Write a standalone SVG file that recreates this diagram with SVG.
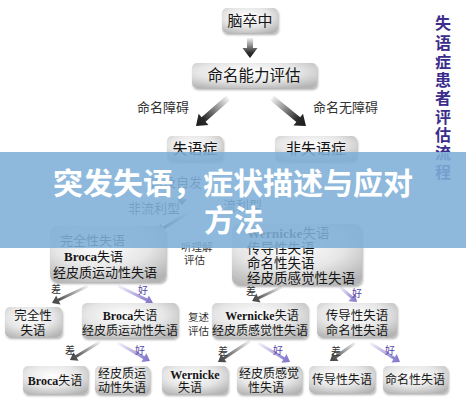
<svg xmlns="http://www.w3.org/2000/svg" width="466" height="400" viewBox="0 0 466 400">
<defs>
<radialGradient id="bx" cx="0.45" cy="0.35" r="0.75">
<stop offset="0" stop-color="#ffffff"/>
<stop offset="0.55" stop-color="#e6e6e6"/>
<stop offset="1" stop-color="#b4b4b4"/>
</radialGradient>
<linearGradient id="gm" x1="0" y1="0" x2="1" y2="0">
<stop offset="0" stop-color="#f2f2f2"/>
<stop offset="0.75" stop-color="#2a2a2a"/>
<stop offset="1" stop-color="#1a1a1a"/>
</linearGradient>
<linearGradient id="gb" x1="0" y1="0" x2="1" y2="0">
<stop offset="0" stop-color="#f4f4f4"/>
<stop offset="0.8" stop-color="#555"/>
<stop offset="1" stop-color="#444"/>
</linearGradient>
<linearGradient id="gg" x1="0" y1="0" x2="1" y2="0">
<stop offset="0" stop-color="#f6f5fb"/>
<stop offset="0.8" stop-color="#9085d2"/>
<stop offset="1" stop-color="#8074c8"/>
</linearGradient>
<filter id="sh" x="-10%" y="-10%" width="125%" height="135%">
<feGaussianBlur in="SourceAlpha" stdDeviation="1.2"/>
<feOffset dx="1" dy="1.5"/>
<feComponentTransfer><feFuncA type="linear" slope="0.3"/></feComponentTransfer>
<feMerge><feMergeNode/><feMergeNode in="SourceGraphic"/></feMerge>
</filter>
</defs>
<style>
.box{fill:url(#bx);filter:url(#sh)}
.t{font-family:"Noto Sans CJK SC",sans-serif;fill:#151515}
.c{text-anchor:middle}
.lat{font-family:"Liberation Serif",serif;font-weight:bold}
.lb{font-family:"Noto Sans CJK SC",sans-serif;fill:#333;font-size:13px}
.sm{font-family:"Noto Sans CJK SC",sans-serif;fill:#333;font-size:10.5px}
.bad{font-family:"Noto Sans CJK SC",sans-serif;fill:#333;font-size:10px;text-anchor:middle}
.good{font-family:"Noto Sans CJK SC",sans-serif;fill:#5546a8;font-size:10px;text-anchor:middle}
.am{fill:url(#gm)}
.ab{fill:url(#gb)}
.ag{fill:url(#gg)}
.vt{font-family:"Noto Sans CJK SC",sans-serif;font-weight:bold;fill:#3a2d8c;font-size:16px;text-anchor:middle}
.title{font-family:"Noto Sans CJK SC",sans-serif;font-weight:bold;fill:#ffffff;font-size:30px;text-anchor:middle}
</style>
<rect width="466" height="400" fill="#ffffff"/>

<g id="connectors">
<polygon class="am" transform="translate(250,38) rotate(90)" points="0,-3 10,-3 10,-7.5 20,0 10,7.5 10,3 0,3"/>
<polygon class="am" transform="translate(228,98) rotate(138.8)" points="0,-3 32.5,-3 32.5,-7.5 42.5,0 32.5,7.5 32.5,3 0,3"/>
<polygon class="am" transform="translate(272,98) rotate(39.5)" points="0,-3 34,-3 34,-7.5 44,0 34,7.5 34,3 0,3"/>
<polygon class="ab" transform="translate(182,192) rotate(90)" points="0,-1.5 7,-1.5 7,-5 13,0 7,5 7,1.5 0,1.5"/>
<polygon class="ab" transform="translate(190,212) rotate(148.8)" points="0,-1.5 31.6,-1.5 31.6,-5 38.6,0 31.6,5 31.6,1.5 0,1.5"/>
<polygon class="ab" transform="translate(88,286) rotate(154.7)" points="0,-1.5 32.8,-1.5 32.8,-5 39.8,0 32.8,5 32.8,1.5 0,1.5"/>
<polygon class="ag" transform="translate(118,286) rotate(25.9)" points="0,-1.5 31.9,-1.5 31.9,-5 38.9,0 31.9,5 31.9,1.5 0,1.5"/>
<polygon class="ab" transform="translate(282,287) rotate(155)" points="0,-1.5 26,-1.5 26,-5 33,0 26,5 26,1.5 0,1.5"/>
<polygon class="ag" transform="translate(340,287) rotate(41.4)" points="0,-1.5 15.7,-1.5 15.7,-5 22.7,0 15.7,5 15.7,1.5 0,1.5"/>
<polygon class="ab" transform="translate(100,342) rotate(149)" points="0,-1.5 28,-1.5 28,-5 35,0 28,5 28,1.5 0,1.5"/>
<polygon class="ag" transform="translate(118,343) rotate(29.4)" points="0,-1.5 29.7,-1.5 29.7,-5 36.7,0 29.7,5 29.7,1.5 0,1.5"/>
<polygon class="ab" transform="translate(250,341) rotate(146.7)" points="0,-1.5 31.3,-1.5 31.3,-5 38.3,0 31.3,5 31.3,1.5 0,1.5"/>
<polygon class="ag" transform="translate(258,343) rotate(30.7)" points="0,-1.5 30.2,-1.5 30.2,-5 37.2,0 30.2,5 30.2,1.5 0,1.5"/>
<polygon class="ab" transform="translate(355,343) rotate(144.2)" points="0,-1.5 23.8,-1.5 23.8,-5 30.8,0 23.8,5 23.8,1.5 0,1.5"/>
<polygon class="ag" transform="translate(370,343) rotate(32.3)" points="0,-1.5 28.5,-1.5 28.5,-5 35.5,0 28.5,5 28.5,1.5 0,1.5"/>
</g>

<g id="labels">
<text class="lb" x="137" y="112">命名障碍</text>
<text class="lb" x="313" y="112">命名无障碍</text>
<text class="lb" x="150" y="187">语及自发</text>
<text class="lb" x="128" y="213">非流利型</text>
<text class="lb" x="223" y="210">流利型</text>
<text class="sm" x="181" y="251">听理解</text>
<text class="sm" x="184" y="264">评估</text>
<text class="sm" x="188" y="321">复述</text>
<text class="sm" x="188" y="335">评估</text>
<text class="bad" x="56" y="293">差</text>
<text class="good" x="143" y="294">好</text>
<text class="bad" x="251" y="295">差</text>
<text class="good" x="357" y="297">好</text>
<text class="bad" x="70" y="354">差</text>
<text class="good" x="140" y="354">好</text>
<text class="bad" x="223" y="355">差</text>
<text class="good" x="278" y="354">好</text>
<text class="bad" x="336" y="355">差</text>
<text class="good" x="390" y="354">好</text>
</g>

<g id="n-stroke"><rect class="box" x="222" y="8" width="56" height="25" rx="5"/><text class="t c" x="250" y="26" font-size="15">脑卒中</text></g>
<g id="n-naming"><rect class="box" x="192" y="63" width="125" height="25" rx="5"/><text class="t c" x="254" y="81" font-size="15.5">命名能力评估</text></g>
<g id="n-aphasia"><rect class="box" x="167" y="136" width="56" height="25" rx="5"/><text class="t c" x="195" y="154" font-size="15">失语症</text></g>
<g id="n-nonaphasia"><rect class="box" x="275" y="136" width="82" height="25" rx="5"/><text class="t c" x="316" y="154" font-size="15">非失语症</text></g>

<g id="n-nonfluent"><rect class="box" x="50" y="226" width="116" height="56" rx="7"/>
<text class="t" x="60" y="245" font-size="13">完全性失语</text>
<text class="t" x="64" y="261" font-size="13"><tspan class="lat">Broca</tspan>失语</text>
<text class="t" x="53" y="277" font-size="13">经皮质运动性失语</text></g>
<g id="n-fluent"><rect class="box" x="232" y="224" width="130" height="61" rx="7"/>
<text class="t" x="247" y="238" font-size="13.5"><tspan class="lat">Wernicke</tspan>失语</text>
<text class="t" x="247" y="253" font-size="13.5">传导性失语</text>
<text class="t" x="247" y="268" font-size="13.5">命名性失语</text>
<text class="t" x="247" y="283" font-size="13.5">经皮质感觉性失语</text></g>

<g id="n-global"><rect class="box" x="5" y="307" width="57" height="30" rx="5"/>
<text class="t c" x="33" y="320" font-size="12.5">完全性</text>
<text class="t c" x="33" y="335" font-size="12.5">失语</text></g>
<g id="n-broca-tcm"><rect class="box" x="82" y="303" width="96" height="35" rx="5"/>
<text class="t c" x="130" y="320" font-size="12"><tspan class="lat">Broca</tspan>失语</text>
<text class="t c" x="130" y="335" font-size="12">经皮质运动性失语</text></g>
<g id="n-wern-tcs"><rect class="box" x="212" y="303" width="96" height="35" rx="5"/>
<text class="t c" x="262" y="320" font-size="12"><tspan class="lat">Wernicke</tspan>失语</text>
<text class="t c" x="260" y="335" font-size="12">经皮质感觉性失语</text></g>
<g id="n-cond-anom"><rect class="box" x="317" y="303" width="80" height="34" rx="5"/>
<text class="t c" x="357" y="320" font-size="12.5">传导性失语</text>
<text class="t c" x="357" y="335" font-size="12.5">命名性失语</text></g>

<g id="n-broca"><rect class="box" x="23" y="366" width="65" height="28" rx="5"/>
<text class="t c" x="55" y="385" font-size="12"><tspan class="lat">Broca</tspan>失语</text></g>
<g id="n-tcm"><rect class="box" x="95" y="366" width="55" height="28" rx="5"/>
<text class="t c" x="122" y="378" font-size="12">经皮质运</text>
<text class="t c" x="122" y="392" font-size="12">动性失语</text></g>
<g id="n-wernicke"><rect class="box" x="162" y="366" width="66" height="28" rx="5"/>
<text class="t c" x="195" y="379" font-size="12"><tspan class="lat">Wernicke</tspan></text>
<text class="t c" x="190" y="392" font-size="12">失语</text></g>
<g id="n-tcs"><rect class="box" x="237" y="366" width="65" height="28" rx="5"/>
<text class="t c" x="269" y="378" font-size="12">经皮质感觉</text>
<text class="t c" x="266" y="392" font-size="12">性失语</text></g>
<g id="n-conduction"><rect class="box" x="309" y="366" width="66" height="27" rx="5"/>
<text class="t c" x="342" y="384" font-size="12">传导性失语</text></g>
<g id="n-anomic"><rect class="box" x="383" y="366" width="65" height="27" rx="5"/>
<text class="t c" x="415" y="384" font-size="12">命名性失语</text></g>

<g id="vertical-title">
<text class="vt" x="443" y="29">失</text>
<text class="vt" x="443" y="49">语</text>
<text class="vt" x="443" y="68">症</text>
<text class="vt" x="443" y="86">患</text>
<text class="vt" x="443" y="104">者</text>
<text class="vt" x="443" y="123">评</text>
<text class="vt" x="443" y="141">估</text>
<text class="vt" x="443" y="159">流</text>
<text class="vt" x="443" y="178">程</text>
</g>

<g id="banner">
<rect x="0" y="152" width="466" height="96" fill="#7eafd8" fill-opacity="0.88"/>
<text class="title" x="233" y="194">突发失语，症状描述与应对</text>
<text class="title" x="234" y="231">方法</text>
</g>
</svg>
